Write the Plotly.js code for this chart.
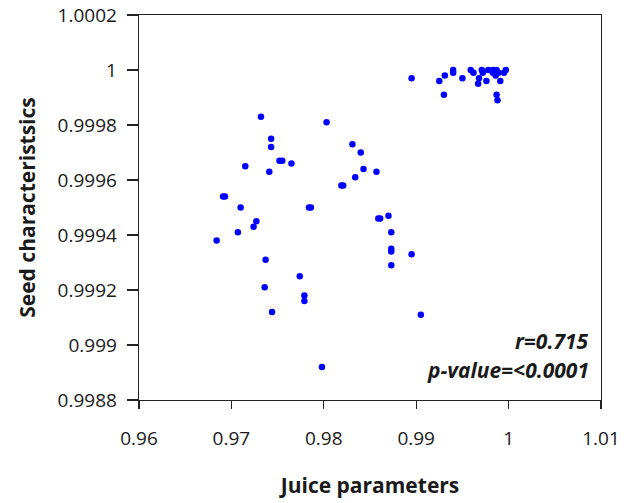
<!DOCTYPE html>
<html>
<head>
<meta charset="utf-8">
<script src="https://cdn.plot.ly/plotly-3.0.1.min.js"></script>
<style>html,body{margin:0;padding:0;background:#fff;}#chart{width:640px;height:503px;}</style>
</head>
<body>
<div id="chart"></div>
<script>
// Juice parameters (x) and Seed characteristics (y)
const juiceParams = [
  0.9732, 0.9803, 0.9743, 0.9743, 0.9752, 0.9755, 0.9765, 0.9715, 0.9741,
  0.9691, 0.9693, 0.9710, 0.9784, 0.9786, 0.9727, 0.9724, 0.9707, 0.9684,
  0.9737, 0.9774, 0.9736, 0.9779, 0.9779, 0.9744,
  0.9831, 0.9840, 0.9843, 0.9857, 0.9834, 0.9819, 0.9821, 0.9859, 0.9861,
  0.9870, 0.9873, 0.9873, 0.9873, 0.9873, 0.9895, 0.9905, 0.9798,
  0.9895, 0.9925, 0.9931, 0.9940, 0.9940, 0.9930, 0.9950, 0.9959, 0.9962,
  0.9967, 0.9971, 0.9972, 0.9976, 0.9978, 0.9983, 0.9983, 0.9987, 0.9986,
  0.9989, 0.9991, 0.9997, 0.9995, 0.9987, 0.9988, 0.9968
];
const seedChars = [
  0.99983, 0.99981, 0.99975, 0.99972, 0.99967, 0.99967, 0.99966, 0.99965, 0.99963,
  0.99954, 0.99954, 0.99950, 0.99950, 0.99950, 0.99945, 0.99943, 0.99941, 0.99938,
  0.99931, 0.99925, 0.99921, 0.99918, 0.99916, 0.99912,
  0.99973, 0.99970, 0.99964, 0.99963, 0.99961, 0.99958, 0.99958, 0.99946, 0.99946,
  0.99947, 0.99941, 0.99935, 0.99934, 0.99929, 0.99933, 0.99911, 0.99892,
  0.99997, 0.99996, 0.99998, 1.00000, 0.99999, 0.99991, 0.99997, 1.00000, 0.99999,
  0.99995, 1.00000, 0.99999, 0.99996, 1.00000, 1.00000, 0.99999, 1.00000, 0.99998,
  0.99999, 0.99996, 1.00000, 0.99999, 0.99991, 0.99989, 0.99997
];
const xTicks = [0.96, 0.97, 0.98, 0.99, 1, 1.01];
const xTickText = ['0.96', '0.97', '0.98', '0.99', '1', '1.01'];
const yTicks = [0.9988, 0.999, 0.9992, 0.9994, 0.9996, 0.9998, 1, 1.0002];
const yTickText = ['0.9988', '0.999', '0.9992', '0.9994', '0.9996', '0.9998', '1', '1.0002'];
const statLines = ['r=0.715', 'p-value=<0.0001'];

const tickFont = {family: 'Open Sans, sans-serif', size: 19, color: '#1a1a1a'};
const titleFont = {family: 'Open Sans, sans-serif', size: 21, color: '#1a1a1a', weight: 'bold'};
const statFont = {family: 'Open Sans, sans-serif', size: 21, color: '#1a1a1a'};

const trace = {
  x: juiceParams, y: seedChars, type: 'scatter', mode: 'markers',
  marker: {color: '#0000ff', size: 6.5, line: {width: 0}},
  hoverinfo: 'skip', showlegend: false
};

const layout = {
  width: 640, height: 503,
  margin: {l: 139, r: 39, t: 15, b: 103},
  paper_bgcolor: '#ffffff', plot_bgcolor: '#ffffff',
  showlegend: false,
  xaxis: {
    range: [0.96, 1.01], tickvals: xTicks, ticktext: xTickText,
    ticks: 'outside', ticklen: 8, tickwidth: 1.3, tickcolor: '#222',
    showline: true, linecolor: '#222', linewidth: 1.3, mirror: true,
    showgrid: false, zeroline: false, tickfont: tickFont, ticklabelstandoff: 13,
    title: {text: 'Juice parameters', font: titleFont, standoff: 28}
  },
  xaxis2: {
    range: [0.96, 1.01], tickvals: xTicks, overlaying: 'x', anchor: 'y',
    ticks: 'inside', ticklen: 8, tickwidth: 1.3, tickcolor: '#222',
    showticklabels: false, showline: false, showgrid: false, zeroline: false
  },
  yaxis: {
    range: [0.9988, 1.0002], tickvals: yTicks, ticktext: yTickText,
    ticks: 'outside', ticklen: 11, tickwidth: 1.3, tickcolor: '#222',
    showline: true, linecolor: '#222', linewidth: 1.3, mirror: true,
    showgrid: false, zeroline: false, tickfont: tickFont, ticklabelstandoff: 6,
    title: {text: 'Seed characteristsics', font: titleFont, standoff: 16}
  },
  annotations: [
    {xref: 'paper', yref: 'paper', x: 0.978, y: 0.153, xanchor: 'right', yanchor: 'middle',
     text: '<b><i>' + statLines[0] + '</i></b>', showarrow: false, font: statFont},
    {xref: 'paper', yref: 'paper', x: 0.978, y: 0.078, xanchor: 'right', yanchor: 'middle',
     text: '<b><i>' + statLines[1] + '</i></b>', showarrow: false, font: statFont}
  ]
};

Plotly.newPlot('chart', [trace], layout, {staticPlot: true, displayModeBar: false});
</script>
</body>
</html>
